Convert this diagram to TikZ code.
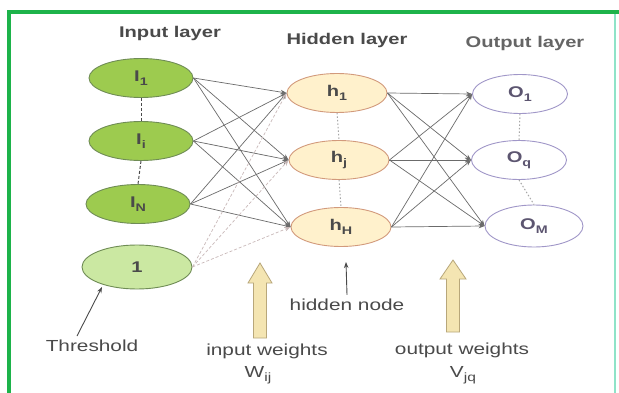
\documentclass[tikz,border=0pt]{standalone}
\usepackage{fontspec}
\setmainfont{Liberation Sans}
\newfontfamily\widesans[FakeStretch=1.3]{Liberation Sans}
\usetikzlibrary{shapes.geometric,arrows.meta}

% lowered index in a fixed size
\newcommand\lowidx[2]{\raisebox{-0.28em}{\fontsize{#1}{#1}\selectfont #2}}

\definecolor{frame}{HTML}{1DB34A}
\definecolor{frameR}{HTML}{8FE3C8}
\definecolor{inpfill}{HTML}{9DCB4F}
\definecolor{inpdraw}{HTML}{6F8C55}
\definecolor{thrfill}{HTML}{CBE8A2}
\definecolor{hidfill}{HTML}{FFF1CC}
\definecolor{hiddraw}{HTML}{D29A7C}
\definecolor{outdraw}{HTML}{A097C8}
\definecolor{txt}{HTML}{4A4A4A}
\definecolor{outtxt}{HTML}{5C5570}
\definecolor{wire}{HTML}{6B6B6B}
\definecolor{wirelight}{HTML}{C9B9B9}
\definecolor{blockfill}{HTML}{F4E5B2}
\definecolor{blockdraw}{HTML}{B8A77A}

\tikzset{
  neuron/.style={ellipse, inner sep=0pt, line width=0.9pt,
    font=\widesans\bfseries\fontsize{15.5}{17}\selectfont, text=txt},
  inp/.style={neuron, fill=inpfill, draw=inpdraw,
    minimum width=104pt, minimum height=39pt},
  thr/.style={neuron, fill=thrfill, draw=inpdraw,
    minimum width=110pt, minimum height=44pt},
  hid/.style={neuron, fill=hidfill, draw=hiddraw,
    minimum width=100pt, minimum height=39pt},
  outn/.style={neuron, fill=white, draw=outdraw, text=outtxt,
    minimum width=95pt, minimum height=39pt},
  title/.style={font=\widesans\bfseries\fontsize{15.5}{17}\selectfont, text=txt},
  note/.style={font=\widesans\fontsize{16}{18}\selectfont, text=txt, inner sep=1pt},
  wirestyle/.style={draw=wire, line width=0.7pt,
    -{Stealth[length=6pt,width=4.5pt]}},
  biaswire/.style={draw=wirelight, line width=0.7pt, densely dashed,
    -{Stealth[length=6pt,width=4.5pt,fill=wire!70]}},
  gap/.style={draw=txt, line width=1pt, dash pattern=on 3pt off 2pt},
  gaplight/.style={draw=wire!60, line width=1pt, dash pattern=on 1.5pt off 2pt},
  block/.style={fill=blockfill, draw=blockdraw, line width=0.8pt},
}

\begin{document}
\begin{tikzpicture}[x=1pt,y=-1pt]
\useasboundingbox (0,0) rectangle (619,393);
\fill[white] (0,0) rectangle (619,393);

% frame
\draw[frame, line width=3.5pt] (7,12) -- (619,12);
\draw[frame, line width=3.5pt] (9,10.5) -- (9,393);
\draw[frameR, line width=1.2pt] (615,14) -- (615,393);

% layer titles
\node[title] (tin)  at (170,33) {Input layer};
\node[title] (thid) at (347,40) {Hidden layer};
\node[title, text=txt!85] (tout) at (525,43) {Output layer};

% input layer
\node[inp] (I1) at (141,78)  {I\lowidx{11}{1}};
\node[inp] (Ii) at (141,141) {I\lowidx{11}{i}};
\node[inp] (IN) at (138,204) {I\lowidx{11}{N}};
\node[thr] (B)  at (137,267) {1};

% hidden layer
\node[hid] (h1) at (337,93)  {h\lowidx{11}{1}};
\node[hid] (hj) at (339,160) {h\lowidx{11}{j}};
\node[hid] (hH) at (341,227) {h\lowidx{11}{H}};

% output layer
\node[outn] (O1) at (520,94)  {O\lowidx{11}{1}};
\node[outn] (Oq) at (519,160) {O\lowidx{11}{q}};
\node[outn, minimum width=98pt, minimum height=42pt] (OM) at (534,226) {O\lowidx{11}{M}};

% elided units
\draw[gap] (I1.south) -- (Ii.north);
\draw[gap] (Ii.south) -- (IN.north);
\draw[gaplight] (h1.south) -- (hj.north);
\draw[gaplight] (hj.south) -- (hH.north);
\draw[gaplight] (O1.south) -- (Oq.north);
\draw[gaplight] (Oq.south) -- (OM.north);

% input weights
\foreach \s in {I1,Ii,IN}
  \foreach \t in {h1,hj,hH}
    \draw[wirestyle] (\s.east) -- (\t.west);
\foreach \t in {h1,hj,hH}
  \draw[biaswire] (B.east) -- (\t.west);

% output weights
\foreach \s in {h1,hj,hH}
  \foreach \t in {O1,Oq,OM}
    \draw[wirestyle] (\s.east) -- (\t.west);

% threshold annotation
\node[note] (thrtxt) at (92,346) {Threshold};
\coordinate (thrtip) at (102,287);
\draw[draw=txt, line width=0.9pt, -{Stealth[length=6pt,width=4.5pt]}]
  (77,336) -- (thrtip);

% hidden node annotation
\node[note] (hidtxt) at (347,305) {hidden node};
\draw[draw=txt, line width=0.9pt, -{Stealth[length=6pt,width=4.5pt]}]
  (hidtxt.north) ++(0,-3) -- (346,262);

% block arrows for the weight sets
\draw[block] (253.5,338) -- (253.5,283) -- (248,283) -- (260,263)
  -- (272,283) -- (266.5,283) -- (266.5,338) -- cycle;
\draw[block] (446.5,332) -- (446.5,279) -- (440,279) -- (453,260)
  -- (466,279) -- (459.5,279) -- (459.5,332) -- cycle;

\node[note] (iw) at (267,351) {input weights};
\node[note] (wij) at (258,375) {W\lowidx{12}{ij}};
\node[note] (ow) at (462,350) {output weights};
\node[note] (vjq) at (463,375) {V\lowidx{12}{jq}};
\end{tikzpicture}
\end{document}
